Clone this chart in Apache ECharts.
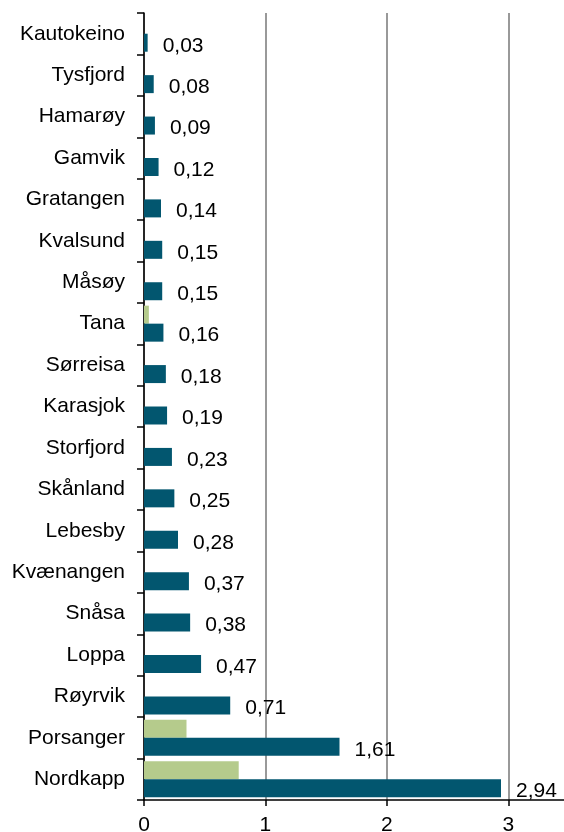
<!DOCTYPE html>
<html>
<head>
<meta charset="utf-8">
<script src="https://cdn.jsdelivr.net/npm/echarts@6/dist/echarts.min.js"></script>
<style>
  html, body { margin: 0; padding: 0; background: #fff; }
  #chart { width: 564px; height: 832px; }
</style>
</head>
<body>
<div id="chart"></div>
<script>
// kommuner, fra toppen og ned
var categories = ["Kautokeino", "Tysfjord", "Hamarøy", "Gamvik", "Gratangen", "Kvalsund",
  "Måsøy", "Tana", "Sørreisa", "Karasjok", "Storfjord", "Skånland", "Lebesby",
  "Kvænangen", "Snåsa", "Loppa", "Røyrvik", "Porsanger", "Nordkapp"];
// grønn serie (lys)
var lightValues = [0, 0, 0, 0, 0, 0, 0, 0.04, 0, 0, 0, 0, 0, 0, 0, 0, 0, 0.35, 0.78];
// mørk serie
var darkValues = [0.03, 0.08, 0.09, 0.12, 0.14, 0.15, 0.15, 0.16, 0.18, 0.19, 0.23,
  0.25, 0.28, 0.37, 0.38, 0.47, 0.71, 1.61, 2.94];
var xTicks = [0, 1, 2, 3];

var myChart = echarts.init(document.getElementById("chart"));
var font = "Liberation Sans, Arial, sans-serif";

var option = {
  animation: false,
  grid: { left: 144, right: -5, top: 13, bottom: 32, outerBoundsMode: "none" },
  xAxis: {
    type: "value",
    min: 0,
    max: 3.5,
    interval: 1,
    axisLine: { show: true, lineStyle: { color: "#000", width: 1.5 } },
    axisTick: { show: true, length: 6, lineStyle: { color: "#000", width: 1.5 } },
    axisLabel: {
      margin: 15, fontSize: 21, fontFamily: font, color: "#000",
      formatter: function (v) { return xTicks.indexOf(v) >= 0 ? String(v) : ""; }
    },
    splitLine: { show: true, lineStyle: { width: 2, color: "#999" } }
  },
  yAxis: {
    type: "category",
    inverse: true,
    data: categories,
    axisLine: { show: true, lineStyle: { color: "#000", width: 1.5 } },
    axisTick: { show: true, length: 7, lineStyle: { color: "#000", width: 1.5 } },
    axisLabel: { margin: 19, fontSize: 21, fontFamily: font, color: "#000" },
    splitLine: { show: false }
  },
  series: [
    {
      name: "lys",
      type: "bar",
      data: lightValues,
      barWidth: 18,
      barGap: "0%",
      itemStyle: { color: "#b5cb8c" }
    },
    {
      name: "mørk",
      type: "bar",
      data: darkValues,
      barWidth: 18,
      barGap: "0%",
      itemStyle: { color: "#02566f" },
      label: {
        show: true,
        position: "right",
        distance: 15,
        offset: [0, 3],
        fontSize: 21,
        fontFamily: font,
        color: "#000",
        formatter: function (p) { return p.value.toFixed(2).replace(".", ","); }
      }
    }
  ]
};

myChart.setOption(option);
</script>
</body>
</html>
